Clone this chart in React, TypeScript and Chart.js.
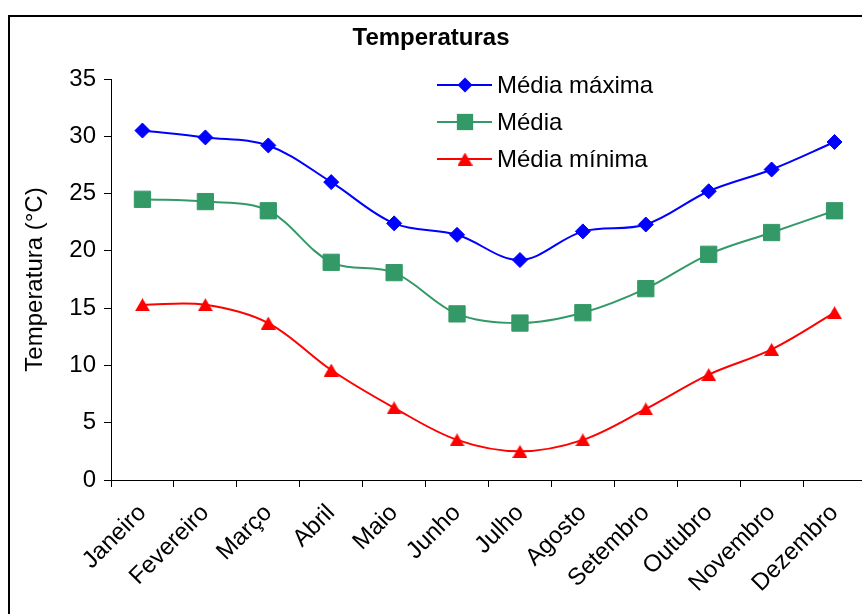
import React, { useEffect, useRef } from "react";
import { Chart, registerables } from "chart.js";

Chart.register(...registerables);

const months = [
  "Janeiro", "Fevereiro", "Março", "Abril", "Maio", "Junho",
  "Julho", "Agosto", "Setembro", "Outubro", "Novembro", "Dezembro",
];
const mediaMaxima = [30.5, 29.9, 29.2, 26.0, 22.4, 21.4, 19.2, 21.7, 22.3, 25.2, 27.1, 29.5];
const media = [24.5, 24.3, 23.5, 19.0, 18.1, 14.5, 13.7, 14.6, 16.7, 19.7, 21.6, 23.5];
const mediaMinima = [15.3, 15.3, 13.7, 9.6, 6.3, 3.5, 2.5, 3.5, 6.2, 9.2, 11.4, 14.6];
const seriesLabels = ["Média máxima", "Média", "Média mínima"];
const chartTitle = "Temperaturas";
const yAxisTitle = "Temperatura (°C)";
const yMin = 0;
const yMax = 35;
const yStep = 5;

const FONT = '"Liberation Sans", Arial, sans-serif';
const BLUE = "#0000FF";
const GREEN = "#339966";
const RED = "#FF0000";

function makeTriangle(color: string) {
  const c = document.createElement("canvas");
  c.width = 15;
  c.height = 13;
  const ctx = c.getContext("2d")!;
  ctx.fillStyle = color;
  ctx.beginPath();
  ctx.moveTo(7.5, 0);
  ctx.lineTo(15, 13);
  ctx.lineTo(0, 13);
  ctx.closePath();
  ctx.fill();
  return c;
}

export default function App() {
  const ref = useRef<HTMLCanvasElement | null>(null);

  useEffect(() => {
    if (!ref.current) return;
    const tri = makeTriangle(RED);

    const frame = {
      id: "frame",
      beforeDraw(chart: any) {
        const ctx = chart.ctx;
        ctx.save();
        ctx.fillStyle = "#fff";
        ctx.fillRect(0, 0, chart.width, chart.height);
        ctx.strokeStyle = "#000";
        ctx.lineWidth = 2;
        ctx.strokeRect(9, 16, 2000, 2000);
        ctx.restore();
      },
      afterDraw(chart: any) {
        const ctx = chart.ctx;
        ctx.save();
        ctx.fillStyle = "#000";
        ctx.font = `bold 24px ${FONT}`;
        ctx.textAlign = "center";
        ctx.textBaseline = "middle";
        ctx.fillText(chartTitle, 431, 38);

        // legend inside the plot area
        chart.data.datasets.forEach((ds: any, i: number) => {
          const y = 85 + i * 37;
          ctx.strokeStyle = ds.borderColor;
          ctx.lineWidth = 2;
          ctx.beginPath();
          ctx.moveTo(437, y);
          ctx.lineTo(492, y);
          ctx.stroke();
          const mx = 465;
          ctx.fillStyle = ds.pointBackgroundColor;
          const ps = ds.pointStyle;
          if (ps === "rectRot") {
            const r = ds.pointRadius;
            ctx.beginPath();
            ctx.moveTo(mx - r, y);
            ctx.lineTo(mx, y - r);
            ctx.lineTo(mx + r, y);
            ctx.lineTo(mx, y + r);
            ctx.closePath();
            ctx.fill();
          } else if (ps === "rect") {
            const s = Math.SQRT1_2 * ds.pointRadius;
            ctx.fillRect(mx - s, y - s, 2 * s, 2 * s);
          } else if (ps instanceof HTMLCanvasElement) {
            ctx.drawImage(ps, mx - ps.width / 2, y - ps.height / 2);
          }
          ctx.fillStyle = "#000";
          ctx.font = `24px ${FONT}`;
          ctx.textAlign = "left";
          ctx.textBaseline = "middle";
          ctx.fillText(ds.label, 497, y + 1);
        });
        ctx.restore();
      },
    };

    const chart = new Chart(ref.current, {
      type: "line",
      data: {
        labels: months,
        datasets: [
          {
            label: seriesLabels[0],
            data: mediaMaxima,
            borderColor: BLUE,
            backgroundColor: BLUE,
            pointBackgroundColor: BLUE,
            pointBorderColor: BLUE,
            pointStyle: "rectRot",
            pointRadius: 7.5,
            pointBorderWidth: 1,
            borderWidth: 2,
            tension: 0.35,
          },
          {
            label: seriesLabels[1],
            data: media,
            borderColor: GREEN,
            backgroundColor: GREEN,
            pointBackgroundColor: GREEN,
            pointBorderColor: GREEN,
            pointStyle: "rect",
            pointRadius: 11.5,
            pointBorderWidth: 1,
            borderWidth: 2,
            tension: 0.35,
          },
          {
            label: seriesLabels[2],
            data: mediaMinima,
            borderColor: RED,
            backgroundColor: RED,
            pointBackgroundColor: RED,
            pointBorderColor: RED,
            pointStyle: tri as any,
            pointRadius: 8,
            pointBorderWidth: 0,
            borderWidth: 2,
            tension: 0.35,
          },
        ],
      },
      options: {
        responsive: false,
        animation: false,
        devicePixelRatio: 1,
        layout: { padding: { left: 0, top: 79, right: 34, bottom: 0 } },
        plugins: {
          legend: { display: false },
          title: { display: false },
          tooltip: { enabled: false },
        },
        scales: {
          x: {
            type: "category",
            offset: true,
            grid: {
              offset: true,
              drawOnChartArea: false,
              drawTicks: true,
              tickLength: 7,
              color: "#000",
              lineWidth: 1,
            },
            border: { display: true, color: "#000", width: 1 },
            ticks: {
              autoSkip: false,
              maxRotation: 45,
              minRotation: 45,
              color: "#000",
              padding: 12,
              font: { family: FONT, size: 24 },
            },
            afterFit: (s: any) => {
              s.height = 134;
            },
          },
          y: {
            min: yMin,
            max: yMax,
            ticks: {
              stepSize: yStep,
              color: "#000",
              padding: 8,
              font: { family: FONT, size: 24 },
            },
            grid: {
              drawOnChartArea: false,
              tickLength: 7,
              color: "#000",
              lineWidth: 1,
            },
            border: { display: true, color: "#000", width: 1 },
            title: {
              display: true,
              text: yAxisTitle,
              color: "#000",
              font: { family: FONT, size: 24 },
              padding: { top: 21, bottom: 0 },
            },
            afterFit: (s: any) => {
              s.width = 111;
            },
          },
        },
      },
      plugins: [frame],
    });

    return () => chart.destroy();
  }, []);

  return (
    <div
      style={{
        position: "fixed",
        left: 0,
        top: 0,
        width: 862,
        height: 614,
        overflow: "hidden",
        background: "#fff",
      }}
    >
      <canvas ref={ref} width={900} height={614} style={{ display: "block" }} />
    </div>
  );
}
